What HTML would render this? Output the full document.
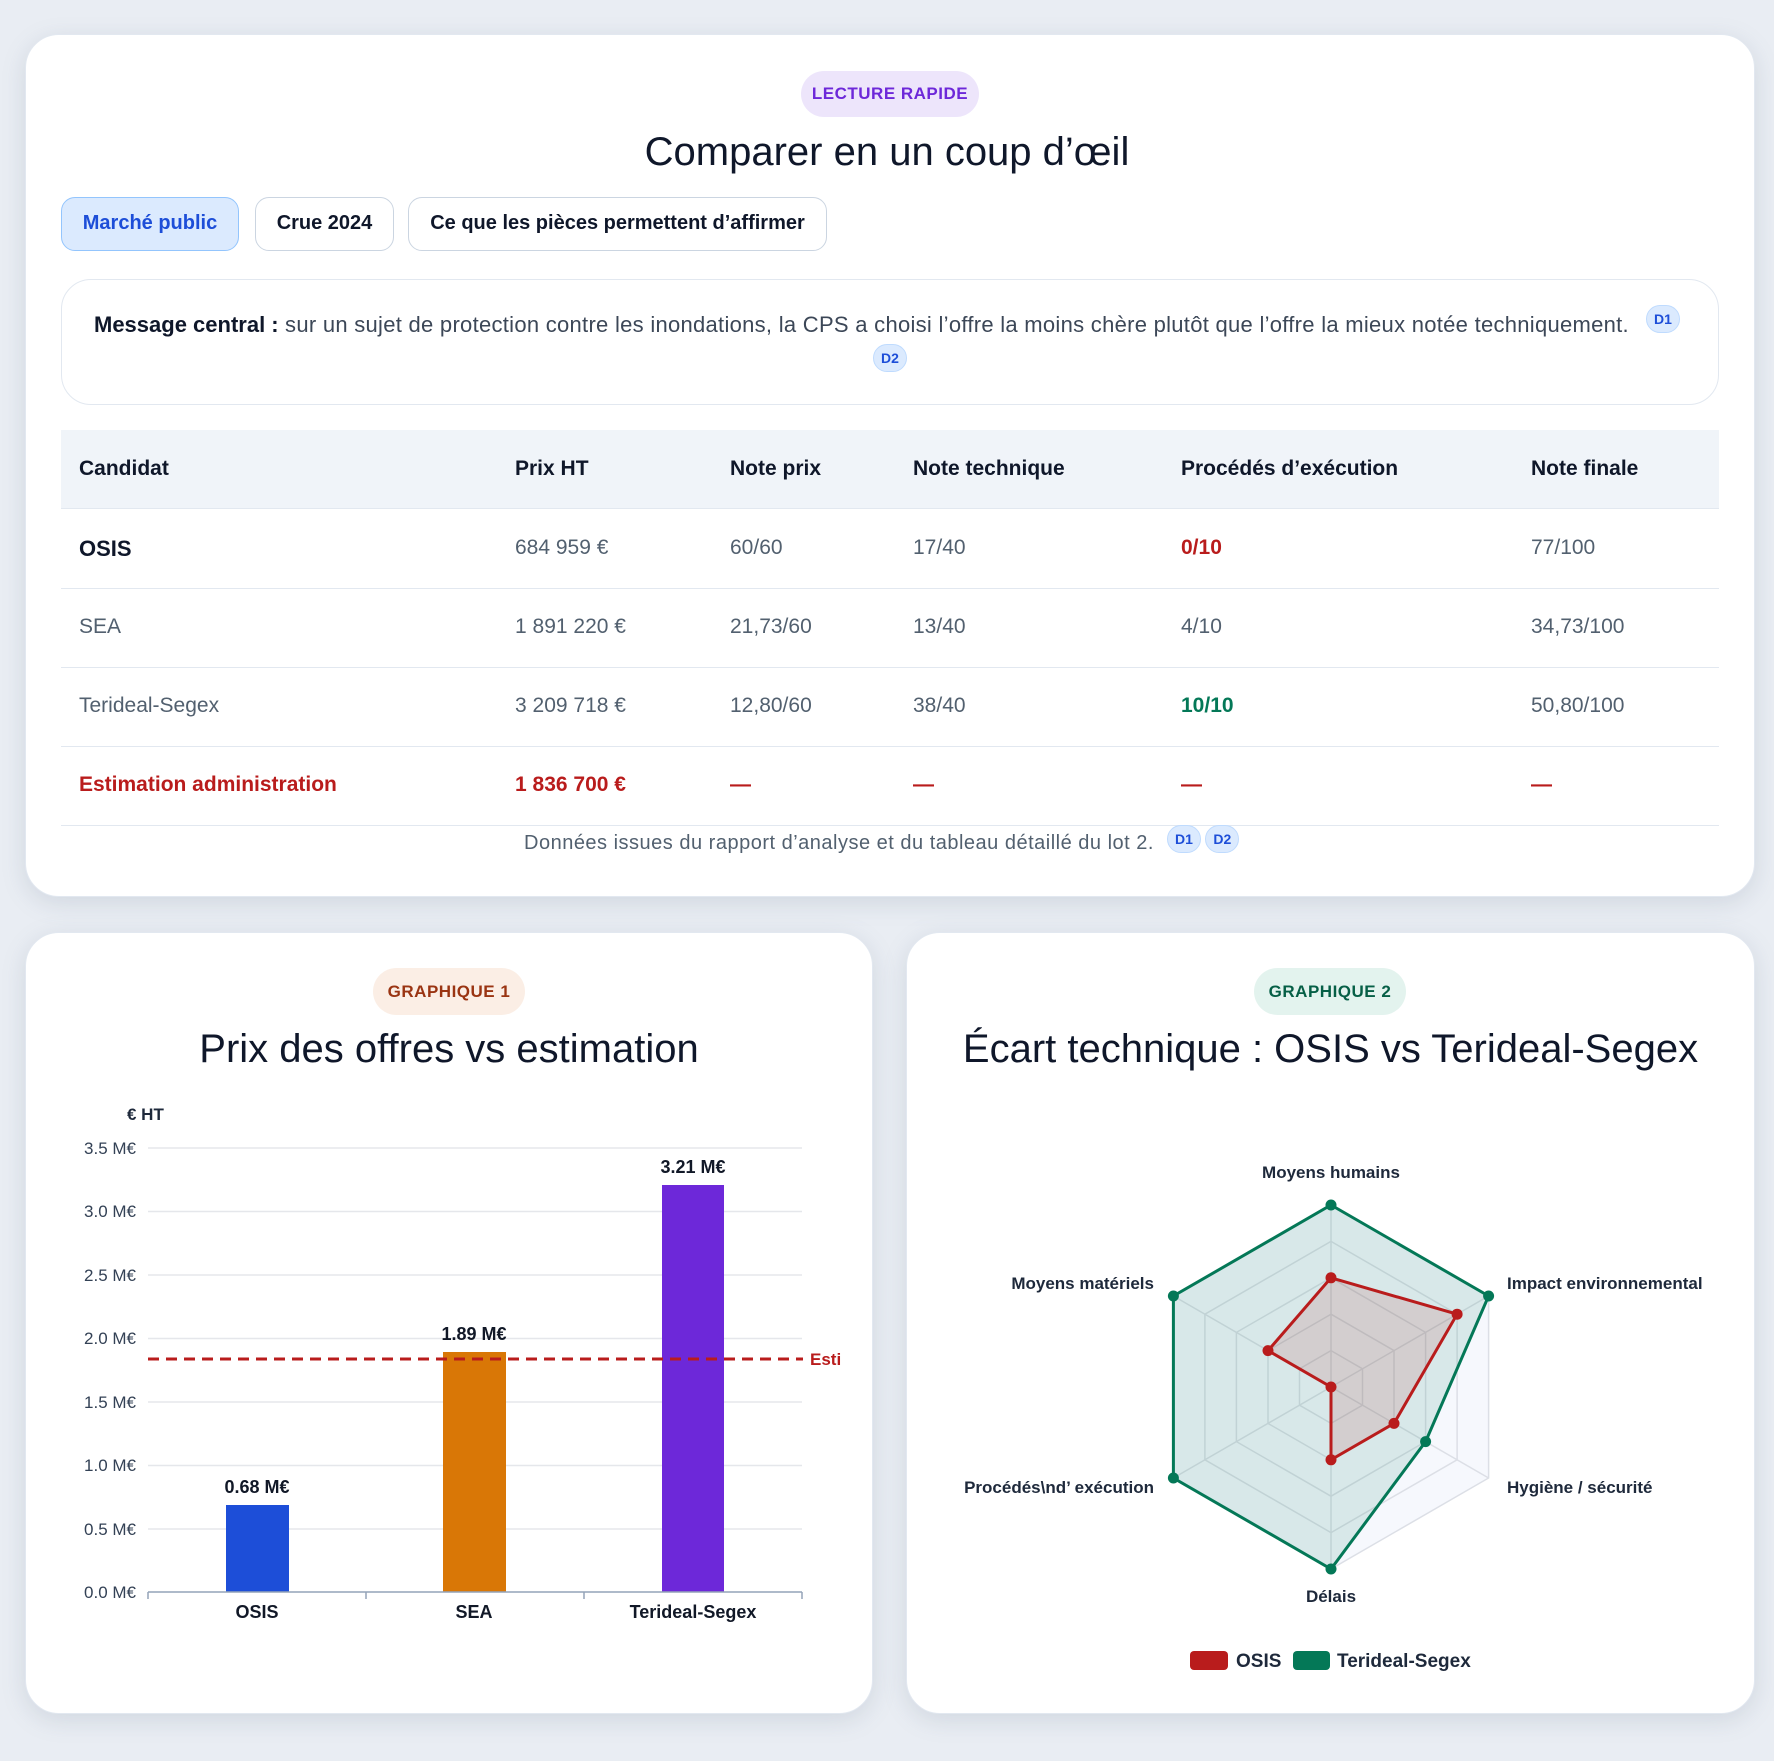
<!DOCTYPE html>
<html><head><meta charset="utf-8"><style>
*{margin:0;padding:0;box-sizing:border-box}
body{width:1774px;height:1761px;background:#e9edf3;font-family:"Liberation Sans",sans-serif;position:relative;overflow:hidden;color:#0f172a}
.card{position:absolute;background:#fff;border-radius:34px;box-shadow:0 6px 24px rgba(100,116,139,.18);border:1px solid #e2e8f0}
.abs{position:absolute;white-space:nowrap}
.badge{position:absolute;border-radius:24px;font-weight:bold;font-size:17px;text-align:center;letter-spacing:.5px}
.btn{position:absolute;top:197px;height:54px;border:1.5px solid #cbd5e1;border-radius:14px;font-weight:bold;font-size:20px;line-height:51px;text-align:center;background:#fff}
.ref{display:inline-block;background:#dbeafe;border:1px solid #bfdbfe;color:#1d4ed8;font-weight:bold;font-size:14px;border-radius:14px;padding:0 7px;height:28px;line-height:26px}
.th{position:absolute;font-weight:bold;font-size:21px;top:457px}
.td{position:absolute;font-size:21px;color:#52606f}
.hl{position:absolute;left:61px;width:1658px;height:1px;background:#e2e8f0}
</style></head><body>
<div class="card" style="left:25px;top:34px;width:1730px;height:863px"></div>
<div class="badge" style="left:801px;top:71px;width:178px;height:46px;line-height:46px;background:#ede5fb;color:#6d28d9">LECTURE RAPIDE</div>
<div class="abs" style="left:0;width:1774px;text-align:center;top:130px;font-size:40px;color:#0f172a">Comparer en un coup d’œil</div>
<div class="btn" style="left:61px;width:178px;background:#dbeafe;border-color:#93c5fd;color:#1d4ed8">Marché public</div>
<div class="btn" style="left:255px;width:139px">Crue 2024</div>
<div class="btn" style="left:408px;width:419px">Ce que les pièces permettent d’affirmer</div>
<div style="position:absolute;left:61px;top:279px;width:1658px;height:126px;border:1.5px solid #e2e8f0;border-radius:30px"></div>
<div class="abs" style="left:94px;top:312px;font-size:22px;color:#3c4757;letter-spacing:0.28px"><b style="color:#0f172a;letter-spacing:0">Message central :</b> sur un sujet de protection contre les inondations, la CPS a choisi l’offre la moins chère plutôt que l’offre la mieux notée techniquement.</div>
<div class="abs" style="left:1646px;top:305px"><span class="ref">D1</span></div>
<div class="abs" style="left:873px;top:344px"><span class="ref">D2</span></div>
<div style="position:absolute;left:61px;top:430px;width:1658px;height:79px;background:#f0f4f9"></div>
<div class="th" style="left:79px">Candidat</div><div class="th" style="left:515px">Prix HT</div><div class="th" style="left:730px">Note prix</div><div class="th" style="left:913px">Note technique</div><div class="th" style="left:1181px">Procédés d’exécution</div><div class="th" style="left:1531px">Note finale</div>
<div class="hl" style="top:508px"></div><div class="hl" style="top:588px"></div><div class="hl" style="top:667px"></div><div class="hl" style="top:746px"></div><div class="hl" style="top:825px"></div>
<div class="td" style="top:536px;left:79px;color:#0f172a;font-weight:bold;font-size:22px">OSIS</div><div class="td" style="top:536px;left:515px">684 959 €</div><div class="td" style="top:536px;left:730px">60/60</div><div class="td" style="top:536px;left:913px">17/40</div><div class="td" style="top:536px;left:1181px;color:#b91c1c;font-weight:bold">0/10</div><div class="td" style="top:536px;left:1531px">77/100</div>
<div class="td" style="top:615px;left:79px">SEA</div><div class="td" style="top:615px;left:515px">1 891 220 €</div><div class="td" style="top:615px;left:730px">21,73/60</div><div class="td" style="top:615px;left:913px">13/40</div><div class="td" style="top:615px;left:1181px">4/10</div><div class="td" style="top:615px;left:1531px">34,73/100</div>
<div class="td" style="top:694px;left:79px">Terideal-Segex</div><div class="td" style="top:694px;left:515px">3 209 718 €</div><div class="td" style="top:694px;left:730px">12,80/60</div><div class="td" style="top:694px;left:913px">38/40</div><div class="td" style="top:694px;left:1181px;color:#047857;font-weight:bold">10/10</div><div class="td" style="top:694px;left:1531px">50,80/100</div>
<div class="td" style="top:773px;left:79px;color:#b91c1c;font-weight:bold">Estimation administration</div><div class="td" style="top:773px;left:515px;color:#b91c1c;font-weight:bold">1 836 700 €</div><div class="td" style="top:773px;left:730px;color:#b91c1c;font-weight:bold">—</div><div class="td" style="top:773px;left:913px;color:#b91c1c;font-weight:bold">—</div><div class="td" style="top:773px;left:1181px;color:#b91c1c;font-weight:bold">—</div><div class="td" style="top:773px;left:1531px;color:#b91c1c;font-weight:bold">—</div>
<div class="abs" style="left:524px;top:832px;font-size:20px;color:#52606f;letter-spacing:0.5px">Données issues du rapport d’analyse et du tableau détaillé du lot 2.</div>
<div class="abs" style="left:1167px;top:825px"><span class="ref">D1</span> <span class="ref">D2</span></div>

<div class="card" style="left:25px;top:932px;width:848px;height:782px"></div>
<div class="card" style="left:906px;top:932px;width:849px;height:782px"></div>
<div class="badge" style="left:373px;top:968px;width:152px;height:47px;line-height:47px;background:#fbeee5;color:#9a3412">GRAPHIQUE 1</div>
<div class="badge" style="left:1254px;top:968px;width:152px;height:47px;line-height:47px;background:#e3f3ee;color:#065f46">GRAPHIQUE 2</div>
<div class="abs" style="left:25px;width:848px;text-align:center;top:1027px;font-size:40px">Prix des offres vs estimation</div>
<div class="abs" style="left:906px;width:849px;text-align:center;top:1027px;font-size:40px">Écart technique : OSIS vs Terideal-Segex</div>

<svg width="1774" height="1761" style="position:absolute;left:0;top:0" font-family="Liberation Sans, sans-serif">
<g stroke="#e5e7eb" stroke-width="1.5">
<line x1="148" x2="802" y1="1148" y2="1148"/><line x1="148" x2="802" y1="1211.5" y2="1211.5"/><line x1="148" x2="802" y1="1275" y2="1275"/><line x1="148" x2="802" y1="1338.5" y2="1338.5"/><line x1="148" x2="802" y1="1402" y2="1402"/><line x1="148" x2="802" y1="1465.5" y2="1465.5"/><line x1="148" x2="802" y1="1529" y2="1529"/>
</g>
<g fill="#334155" font-size="17" text-anchor="end">
<text x="136" y="1154">3.5 M€</text><text x="136" y="1217">3.0 M€</text><text x="136" y="1281">2.5 M€</text><text x="136" y="1344">2.0 M€</text><text x="136" y="1408">1.5 M€</text><text x="136" y="1471">1.0 M€</text><text x="136" y="1535">0.5 M€</text><text x="136" y="1598">0.0 M€</text>
</g>
<text x="127" y="1120" font-size="17" font-weight="bold" fill="#1e293b">€ HT</text>
<rect x="226" y="1505" width="63" height="87" fill="#1d4ed8"/>
<rect x="443" y="1352" width="63" height="240" fill="#d97706"/>
<rect x="662" y="1185" width="62" height="407" fill="#6d28d9"/>
<line x1="148" x2="802" y1="1592" y2="1592" stroke="#94a3b8" stroke-width="1.5"/>
<g stroke="#94a3b8" stroke-width="1.5"><line x1="148" x2="148" y1="1592" y2="1599"/><line x1="366" x2="366" y1="1592" y2="1599"/><line x1="584" x2="584" y1="1592" y2="1599"/><line x1="802" x2="802" y1="1592" y2="1599"/></g>
<line x1="148" x2="803" y1="1359" y2="1359" stroke="#b91c1c" stroke-width="3" stroke-dasharray="11,7"/>
<text x="810" y="1365" font-size="17" font-weight="bold" fill="#b91c1c">Esti</text>
<g font-size="18" font-weight="bold" fill="#111827" text-anchor="middle">
<text x="257" y="1493">0.68 M€</text><text x="474" y="1340">1.89 M€</text><text x="693" y="1173">3.21 M€</text>
<text x="257" y="1618">OSIS</text><text x="474" y="1618">SEA</text><text x="693" y="1618">Terideal-Segex</text>
</g>

<g transform="translate(1331,1387)">
<polygon points="0,-182 157.6,-91 157.6,91 0,182 -157.6,91 -157.6,-91" fill="#f6f8fd" stroke="#dcdfe6" stroke-width="1.5"/>
<g fill="none" stroke="#dcdfe6" stroke-width="1.5">
<polygon points="0,-145.6 126.1,-72.8 126.1,72.8 0,145.6 -126.1,72.8 -126.1,-72.8"/>
<polygon points="0,-109.2 94.6,-54.6 94.6,54.6 0,109.2 -94.6,54.6 -94.6,-54.6"/>
<polygon points="0,-72.8 63,-36.4 63,36.4 0,72.8 -63,36.4 -63,-36.4"/>
<polygon points="0,-36.4 31.5,-18.2 31.5,18.2 0,36.4 -31.5,18.2 -31.5,-18.2"/>
<line x1="0" y1="0" x2="0" y2="-182"/><line x1="0" y1="0" x2="157.6" y2="-91"/><line x1="0" y1="0" x2="157.6" y2="91"/><line x1="0" y1="0" x2="0" y2="182"/><line x1="0" y1="0" x2="-157.6" y2="91"/><line x1="0" y1="0" x2="-157.6" y2="-91"/>
</g>
<polygon points="0,-182 157.6,-91 94.6,54.6 0,182 -157.6,91 -157.6,-91" fill="rgba(4,120,87,0.12)" stroke="#047857" stroke-width="3"/>
<polygon points="0,-109.2 126.1,-72.8 63,36.4 0,72.8 0,0 -63,-36.4" fill="rgba(185,28,28,0.12)" stroke="#b91c1c" stroke-width="3"/>
<g fill="#047857"><circle cx="0" cy="-182" r="5.5"/><circle cx="157.6" cy="-91" r="5.5"/><circle cx="94.6" cy="54.6" r="5.5"/><circle cx="0" cy="182" r="5.5"/><circle cx="-157.6" cy="91" r="5.5"/><circle cx="-157.6" cy="-91" r="5.5"/></g>
<g fill="#b91c1c"><circle cx="0" cy="-109.2" r="5.5"/><circle cx="126.1" cy="-72.8" r="5.5"/><circle cx="63" cy="36.4" r="5.5"/><circle cx="0" cy="72.8" r="5.5"/><circle cx="0" cy="0" r="5.5"/><circle cx="-63" cy="-36.4" r="5.5"/></g>
</g>
<g font-size="17" font-weight="bold" fill="#1e293b">
<text x="1331" y="1178" text-anchor="middle">Moyens humains</text>
<text x="1507" y="1289">Impact environnemental</text>
<text x="1507" y="1493">Hygiène / sécurité</text>
<text x="1331" y="1602" text-anchor="middle">Délais</text>
<text x="1154" y="1493" text-anchor="end">Procédés\nd’ exécution</text>
<text x="1154" y="1289" text-anchor="end">Moyens matériels</text>
</g>
<rect x="1190" y="1651" width="38" height="19" rx="4" fill="#b91c1c"/>
<text x="1236" y="1667" font-size="19" font-weight="bold" fill="#1e293b">OSIS</text>
<rect x="1293" y="1651" width="37" height="19" rx="4" fill="#047857"/>
<text x="1337" y="1667" font-size="19" font-weight="bold" fill="#1e293b">Terideal-Segex</text>
</svg>
</body></html>
